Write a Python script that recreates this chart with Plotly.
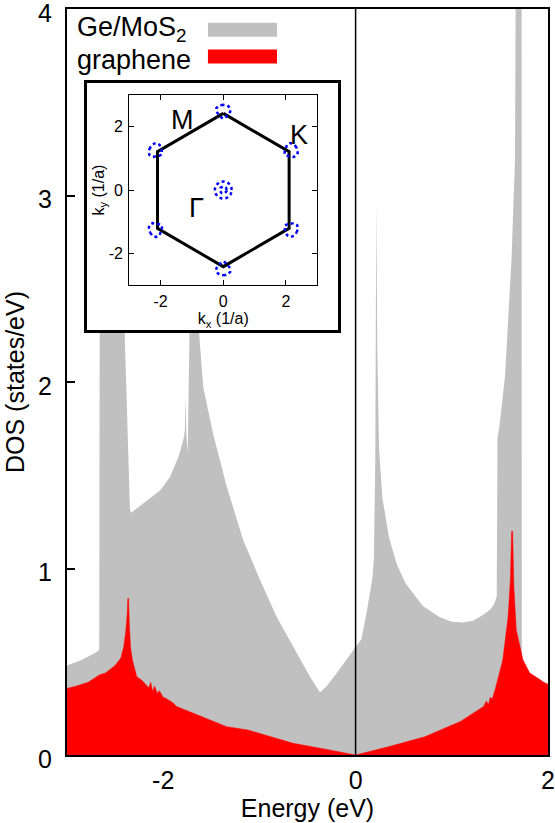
import numpy as np
import plotly.graph_objects as go

# ---------------- data ----------------
# Ge/MoS2 total DOS (grey)
gemos2_E = [-3.00, -2.85, -2.70, -2.665, -2.66, -2.55, -2.45, -2.41, -2.40, -2.345,
            -2.33, -2.17, -2.03, -1.93, -1.84, -1.79, -1.775, -1.767, -1.760, -1.745,
            -1.735, -1.72, -1.70, -1.67, -1.635, -1.583, -1.48, -1.34, -1.167, -0.994,
            -0.82, -0.647, -0.474, -0.37, -0.30, -0.196, -0.10, 0.00, 0.06, 0.12,
            0.175, 0.19, 0.205, 0.215, 0.225, 0.243, 0.278, 0.348, 0.43, 0.52,
            0.696, 0.87, 1.00, 1.11, 1.22, 1.32, 1.40, 1.44, 1.467, 1.475,
            1.494, 1.553, 1.62, 1.657, 1.665, 1.725, 1.728, 1.75, 1.85, 2.00]
gemos2_dos = [0.48, 0.51, 0.55, 0.565, 2.40, 2.50, 2.70, 2.40, 2.25, 1.31,
              1.30, 1.365, 1.42, 1.49, 1.60, 1.69, 1.74, 1.93, 1.72, 1.62,
              1.95, 2.50, 2.75, 2.55, 2.27, 1.97, 1.72, 1.44, 1.15, 0.94,
              0.74, 0.58, 0.42, 0.335, 0.37, 0.44, 0.51, 0.58, 0.62, 0.78,
              0.95, 1.05, 1.60, 2.97, 2.20, 1.65, 1.38, 1.165, 1.02, 0.92,
              0.80, 0.74, 0.715, 0.71, 0.72, 0.75, 0.78, 0.81, 0.85, 1.70,
              1.76, 2.03, 2.65, 3.19, 4.20, 4.20, 0.45, 0.44, 0.37, 0.34]

# graphene projected DOS (red)
graphene_E = [-3.00, -2.90, -2.78, -2.66, -2.60, -2.50, -2.44, -2.41, -2.39, -2.375,
              -2.368, -2.360, -2.352, -2.34, -2.32, -2.275, -2.22, -2.18, -2.15, -2.13,
              -2.11, -2.09, -2.06, -2.04, -2.00, -1.96, -1.90, -1.86, -1.67, -1.34,
              -1.12, -0.85, -0.65, -0.30, 0.00, 0.35, 0.72, 1.09, 1.27, 1.33,
              1.36, 1.38, 1.40, 1.42, 1.45, 1.53, 1.585, 1.61, 1.622, 1.632,
              1.645, 1.67, 1.74, 1.81, 1.90, 1.955, 2.00]
graphene_dos = [0.357, 0.37, 0.39, 0.43, 0.44, 0.48, 0.52, 0.58, 0.66, 0.75,
                0.84, 0.84, 0.70, 0.58, 0.51, 0.42, 0.40, 0.38, 0.36, 0.39,
                0.34, 0.37, 0.33, 0.345, 0.31, 0.30, 0.28, 0.26, 0.22, 0.152,
                0.134, 0.095, 0.063, 0.03, 0.00, 0.045, 0.098, 0.18, 0.24, 0.26,
                0.29, 0.27, 0.31, 0.30, 0.35, 0.51, 0.74, 0.95, 1.20, 1.20,
                0.90, 0.67, 0.51, 0.44, 0.41, 0.39, 0.38]

# inset: Brillouin-zone corners (1/a)
bz_kx = [0.0, 2.10, 2.10, 0.0, -2.10, -2.10, 0.0]
bz_ky = [2.42, 1.21, -1.21, -2.42, -1.21, 1.21, 2.42]
# Fermi pockets around the corners: polar outline in a frame whose 0 deg points
# away from Gamma (deg, radius); tip of the rounded triangle points to Gamma
pocket_angle = [0, 30, 60, 90, 120, 150, 180, 210, 240, 270, 300, 330, 360]
pocket_r = [0.22, 0.24, 0.25, 0.22, 0.17, 0.18, 0.22, 0.18, 0.17, 0.22, 0.25, 0.24, 0.22]
pocket_shift = 0.05
# Gamma-point rings (radius)
gamma_r = [0.27, 0.11]

x_ticks = [-2, 0, 2]
x_ticktext = ["-2", "0", "2"]
y_ticks = [0, 1, 2, 3, 4]
k_ticks = [-2, 0, 2]
k_ticktext = ["-2", "0", "2"]

GREY = "#c0c0c0"
RED = "#ff0000"
BLUE = "#0000ff"
FONT = "Liberation Sans, Arial, Helvetica, sans-serif"

fig = go.Figure()

fig.add_trace(go.Scatter(x=gemos2_E, y=gemos2_dos, mode="lines", fill="tozeroy",
                         fillcolor=GREY, line=dict(width=0, color=GREY),
                         showlegend=False, hoverinfo="skip"))
fig.add_trace(go.Scatter(x=graphene_E, y=graphene_dos, mode="lines", fill="tozeroy",
                         fillcolor=RED, line=dict(width=0.5, color=RED),
                         showlegend=False, hoverinfo="skip"))

# empty trace for the inset frame subplot
fig.add_trace(go.Scatter(x=[None], y=[None], xaxis="x2", yaxis="y2",
                         showlegend=False, hoverinfo="skip"))

# inset traces
fig.add_trace(go.Scatter(x=bz_kx, y=bz_ky, mode="lines", xaxis="x3", yaxis="y3",
                         line=dict(color="black", width=3), showlegend=False,
                         hoverinfo="skip"))
ang = np.deg2rad(np.array(pocket_angle, dtype=float))
rr = np.array(pocket_r)
for cx, cy in zip(bz_kx[:-1], bz_ky[:-1]):
    rad = np.arctan2(cy, cx)  # outward direction of this corner
    ox = cx + pocket_shift * np.cos(rad)
    oy = cy + pocket_shift * np.sin(rad)
    px = ox + rr * np.cos(ang + rad)
    py = oy + rr * np.sin(ang + rad)
    fig.add_trace(go.Scatter(x=px, y=py, mode="lines", xaxis="x3", yaxis="y3",
                             line=dict(color=BLUE, width=2.5, dash="dot"),
                             showlegend=False, hoverinfo="skip"))
full = np.deg2rad(np.arange(0, 361, 10))
for r in gamma_r:
    fig.add_trace(go.Scatter(x=r * np.cos(full), y=r * np.sin(full), mode="lines",
                             xaxis="x3", yaxis="y3",
                             line=dict(color=BLUE, width=2.5, dash="dot"),
                             showlegend=False, hoverinfo="skip"))

fig.add_vline(x=0, line=dict(color="black", width=1.5))

axis_common = dict(showline=True, mirror=True, linecolor="black", showgrid=False,
                   zeroline=False, color="black", automargin=False)

fig.update_layout(
    width=555, height=823,
    margin=dict(l=67, r=7, t=9, b=68),
    paper_bgcolor="white", plot_bgcolor="white",
    font=dict(family=FONT, size=25, color="black"),
    xaxis=dict(range=[-3, 2], tickvals=x_ticks, ticktext=x_ticktext, ticks="",
               linewidth=2, tickfont=dict(size=25), ticklabelstandoff=2,
               ticklabeloverflow="allow",
               title=dict(text="Energy (eV)", font=dict(size=25), standoff=0),
               **axis_common),
    yaxis=dict(range=[0, 4], tickvals=y_ticks, ticks="inside", ticklen=8, tickwidth=1.5,
               linewidth=2, tickfont=dict(size=25), ticklabelstandoff=8,
               ticklabelshift=4, ticklabeloverflow="allow",
               title=dict(text="DOS (states/eV)", font=dict(size=25), standoff=6),
               **axis_common),
    xaxis2=dict(domain=[0.041, 0.564], anchor="y2", range=[0, 1], showticklabels=False,
                ticks="", linewidth=3, **axis_common),
    yaxis2=dict(domain=[0.5697, 0.9004], anchor="x2", range=[0, 1], showticklabels=False,
                ticks="", linewidth=3, **axis_common),
    xaxis3=dict(domain=[0.1295, 0.5204], anchor="y3", range=[-3, 3], tickvals=k_ticks,
                ticktext=k_ticktext,
                ticks="inside", ticklen=5, tickwidth=1, linewidth=1.2,
                tickfont=dict(size=16), ticklabelstandoff=2,
                title=dict(text="k<sub>x</sub> (1/a)", font=dict(size=16), standoff=0),
                **{**axis_common, "mirror": "ticks"}),
    yaxis3=dict(domain=[0.630, 0.8847], anchor="x3", range=[-3, 3], tickvals=k_ticks,
                ticktext=k_ticktext,
                ticks="inside", ticklen=5, tickwidth=1, linewidth=1.2,
                tickfont=dict(size=16), ticklabelstandoff=2,
                title=dict(text="k<sub>y</sub> (1/a)", font=dict(size=16), standoff=0),
                **{**axis_common, "mirror": "ticks"}),
)

# symmetry-point labels in the inset
for txt, kx, ky in [("M", -1.31, 2.21), ("K", 2.42, 1.74), ("Γ", -0.84, -0.58)]:
    fig.add_annotation(x=kx, y=ky, xref="x3", yref="y3", text=txt, showarrow=False,
                       font=dict(size=27, family=FONT))

# legend
fig.add_annotation(x=0.2536, y=0.973, xref="paper", yref="paper", xanchor="right",
                   yanchor="middle", text="Ge/MoS<sub>2</sub>", showarrow=False,
                   font=dict(size=27, family=FONT))
fig.add_annotation(x=0.262, y=0.931, xref="paper", yref="paper", xanchor="right",
                   yanchor="middle", text="graphene", showarrow=False,
                   font=dict(size=27, family=FONT))
fig.add_shape(type="rect", xref="paper", yref="paper", x0=0.293, x1=0.4366,
              y0=0.9629, y1=0.9816, fillcolor=GREY, line=dict(width=0))
fig.add_shape(type="rect", xref="paper", yref="paper", x0=0.293, x1=0.4366,
              y0=0.9269, y1=0.9456, fillcolor=RED, line=dict(width=0))

fig.write_html("out.html",
               config={"displayModeBar": False},
               post_script="document.body.style.margin='0';"
                           "document.body.style.overflow='hidden';")
